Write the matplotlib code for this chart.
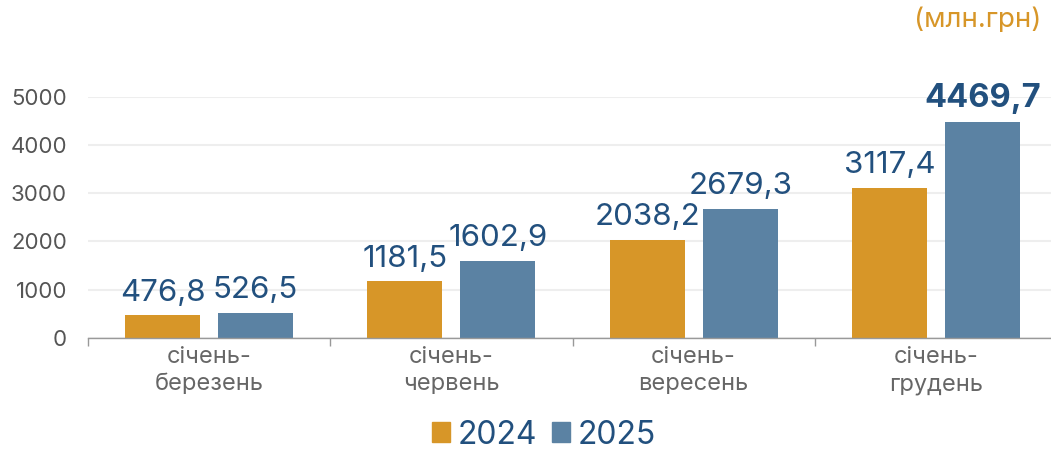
import matplotlib
matplotlib.use("Agg")
import matplotlib.pyplot as plt
import numpy as np
from matplotlib.patches import Patch

plt.rcParams['font.family'] = ['Inter', 'DejaVu Sans']

categories = ['січень-\nберезень', 'січень-\nчервень', 'січень-\nвересень', 'січень-\nгрудень']
values_2024 = [476.8, 1181.5, 2038.2, 3117.4]
values_2025 = [526.5, 1602.9, 2679.3, 4469.7]
labels_2024 = ['476,8', '1181,5', '2038,2', '3117,4']
labels_2025 = ['526,5', '1602,9', '2679,3', '4469,7']
yticks = [0, 1000, 2000, 3000, 4000, 5000]

c24 = '#D79628'
c25 = '#5B82A3'
txt = '#22507E'

W, H = 1051, 451
fig = plt.figure(figsize=(W / 100, H / 100), dpi=100)
ax = fig.add_axes([88 / W, 113 / H, (1057 - 88) / W, (338 - 96.7) / H])

x = np.arange(len(categories))
bw = 0.31
off = 0.192
b1 = ax.bar(x - off, values_2024, bw, color=c24, zorder=3)
b2 = ax.bar(x + off, values_2025, bw, color=c25, zorder=3)

for rect, lab in zip(b1, labels_2024):
    ax.annotate(lab, (rect.get_x() + rect.get_width() / 2, rect.get_height()),
                xytext=(0, 6), textcoords='offset points', ha='center', va='bottom',
                fontsize=22.5, color=txt, annotation_clip=False)
for i, (rect, lab) in enumerate(zip(b2, labels_2025)):
    last = i == len(labels_2025) - 1
    ax.annotate(lab, (rect.get_x() + rect.get_width() / 2, rect.get_height()),
                xytext=(0, 6), textcoords='offset points', ha='center', va='bottom',
                fontsize=23.5 if last else 22.5, color=txt,
                fontweight='bold' if last else 'normal', annotation_clip=False)

ax.set_xlim(-0.5, len(categories) - 0.5)
ax.set_ylim(0, 5000)
ax.set_yticks(yticks)
ax.set_yticklabels([str(v) for v in yticks], fontsize=16, color='#555555')
ax.tick_params(axis='y', length=0, pad=15)

ax.set_xticks(x)
ax.set_xticklabels(categories, fontsize=17, color='#666666', linespacing=1.3)
ax.set_xticks(np.arange(len(categories)) - 0.5, minor=True)
ax.tick_params(axis='x', which='major', length=0, pad=6)
ax.tick_params(axis='x', which='minor', length=6, color='#999999', width=1)

ax.grid(axis='y', color='#eeeeee', linewidth=1.5, zorder=0)
for s in ['top', 'right', 'left']:
    ax.spines[s].set_visible(False)
ax.spines['bottom'].set_color('#999999')
ax.spines['bottom'].set_linewidth(1)
ax.spines['bottom'].set_zorder(4)

fig.text(1041 / W, 1 - 20 / H, '(млн.грн)', ha='right', va='center', fontsize=20, color=c24)

handles = [Patch(color=c24, label='2024'), Patch(color=c25, label='2025')]
leg = fig.legend(handles=handles, loc='center', bbox_to_anchor=(544 / W, 1 - 435 / H), ncol=2,
                 frameon=False, fontsize=23, handlelength=0.56, handleheight=0.56,
                 handletextpad=0.25, columnspacing=0.47)
for t in leg.get_texts():
    t.set_color(txt)

fig.savefig('out.png', dpi=100)
